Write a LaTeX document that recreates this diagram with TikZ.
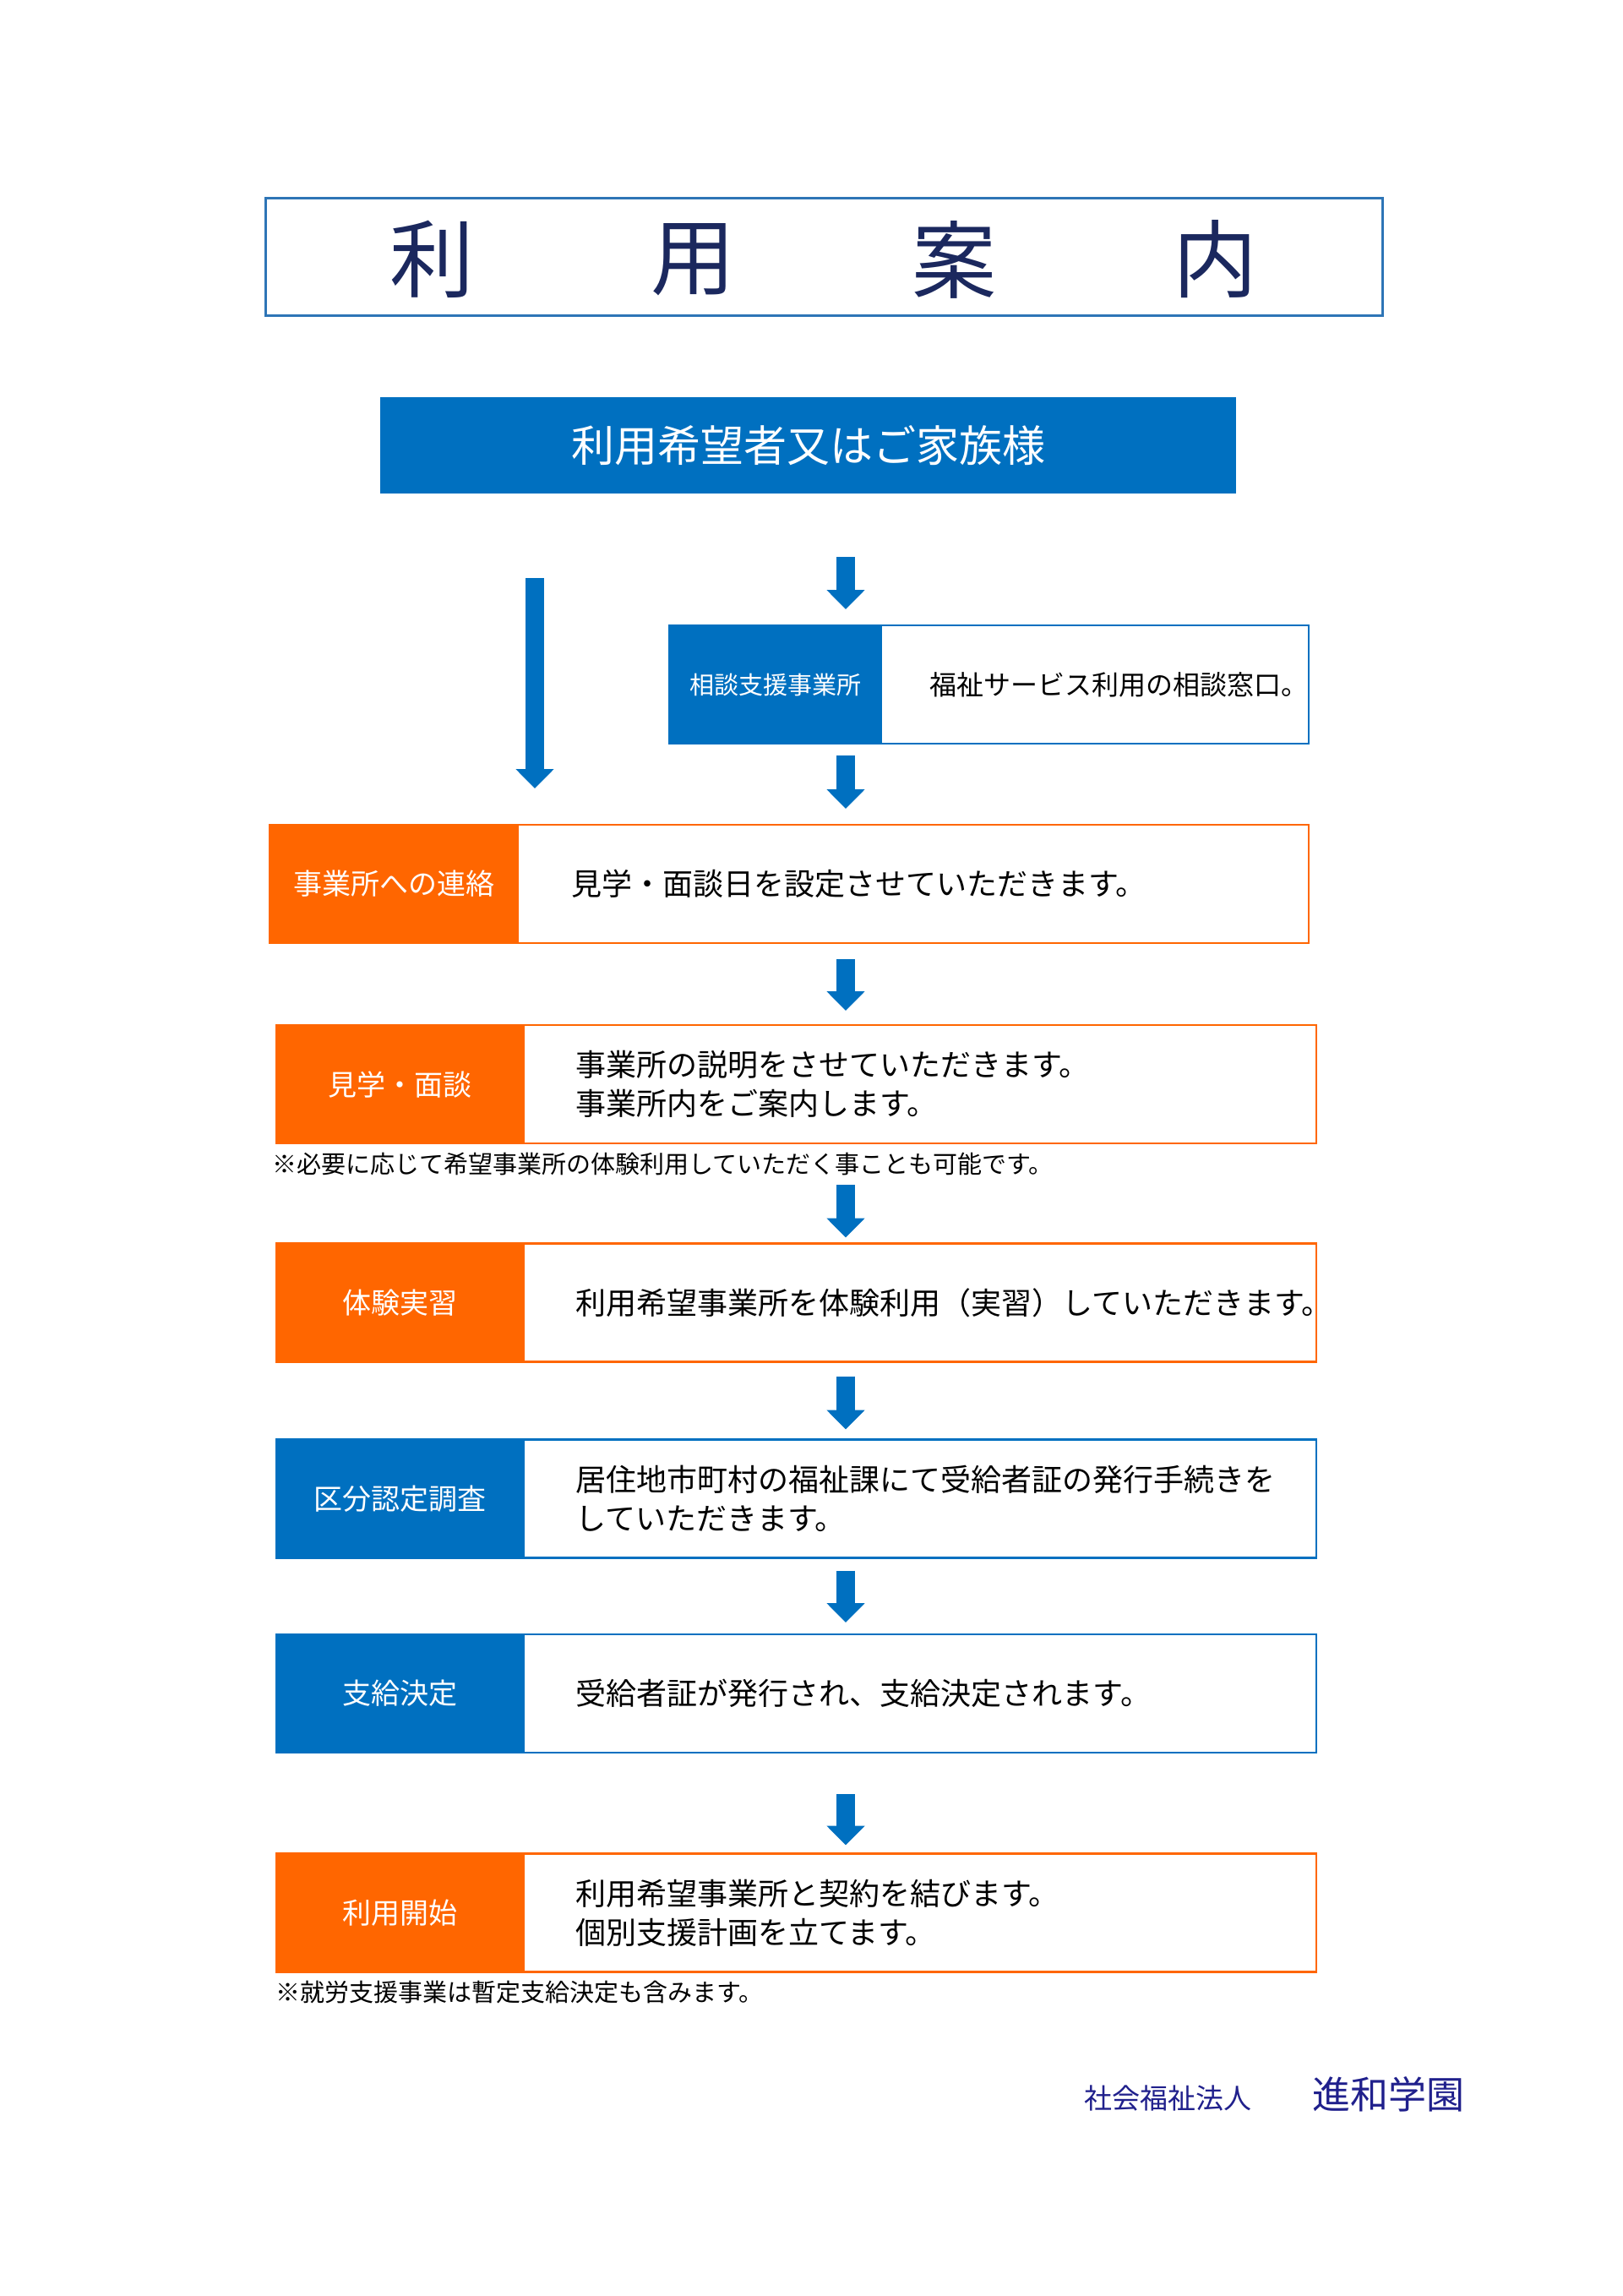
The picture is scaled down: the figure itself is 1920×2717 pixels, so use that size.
\documentclass[tikz,border=0pt]{standalone}
\usepackage{fontspec}
\setmainfont{Noto Sans CJK JP}
\usepackage{tikz}
\usetikzlibrary{positioning,arrows.meta}

\definecolor{kblue}{RGB}{0,112,192}
\definecolor{korange}{RGB}{255,102,0}
\definecolor{frameblue}{RGB}{46,117,182}
\definecolor{titlenavy}{RGB}{27,40,94}
\definecolor{footnavy}{RGB}{32,32,140}

\tikzset{
  base/.style={rectangle, inner sep=0pt, outer sep=0pt, line width=2.5pt},
  titlechar/.style={inner sep=0pt, text=titlenavy, font=\fontsize{100}{110}\selectfont},
  headbox/.style={base, fill=kblue, text=white, minimum width=1013pt, minimum height=114pt,
    font=\fontsize{51}{60}\selectfont},
  bluelabel/.style={base, draw=kblue, fill=kblue, text=white, minimum height=140pt,
    font=\fontsize{34}{40}\selectfont},
  orangelabel/.style={base, draw=korange, fill=korange, text=white, minimum height=140pt,
    font=\fontsize{34}{40}\selectfont},
  bluedesc/.style={base, draw=kblue, fill=white, minimum height=140pt},
  orangedesc/.style={base, draw=korange, fill=white, minimum height=140pt},
  desctext/.style={anchor=west, align=left, inner sep=0pt, font=\fontsize{36}{46}\selectfont},
  note/.style={anchor=west, inner sep=0pt, font=\fontsize{29}{34}\selectfont},
  flowarrow/.style={draw=kblue, line width=22pt, -{Triangle[width=44pt,length=23pt]}},
}

\begin{document}
\begin{tikzpicture}[x=1pt,y=-1pt]
\useasboundingbox (0,0) rectangle (1920,2717);
\fill[white] (0,0) rectangle (1920,2717);

% title
\node[base, draw=frameblue, line width=3pt, minimum width=1322pt, minimum height=139pt] (title) at (975,303.5) {};
\foreach \ch [count=\i] in {利,用,案,内}
  \node[titlechar] (t\i) at ({511+(\i-1)*309},307) {\ch};

% who asks
\node[headbox] (head) at (956.5,527) {利用希望者又はご家族様};

% consultation office
\node[bluelabel, minimum width=251pt, font=\fontsize{29}{34}\selectfont] (c0) at (917.5,810) {相談支援事業所};
\node[bluedesc, minimum width=506pt, right=0pt of c0] (w0) {};
\node[desctext, font=\fontsize{32}{40}\selectfont] (d0) at ([xshift=57pt]w0.west) {福祉サービス利用の相談窓口。};

% steps
\node[orangelabel, minimum width=294pt] (c1) at (466,1046) {事業所への連絡};
\node[orangedesc, minimum width=936pt, right=0pt of c1] (w1) {};
\node[desctext] (d1) at ([xshift=63pt]w1.west) {見学・面談日を設定させていただきます。};

\node[orangelabel, minimum width=293pt] (c2) at (473.5,1283) {見学・面談};
\node[orangedesc, minimum width=938pt, right=0pt of c2] (w2) {};
\node[desctext] (d2) at ([xshift=61pt]w2.west) {事業所の説明をさせていただきます。\\事業所内をご案内します。};
\node[note] (n2) at ([xshift=-5pt,yshift=-25pt]c2.south west) {※必要に応じて希望事業所の体験利用していただく事ことも可能です。};

\node[orangelabel, minimum width=293pt] (c3) at (473.5,1541.5) {体験実習};
\node[orangedesc, minimum width=938pt, right=0pt of c3] (w3) {};
\node[desctext] (d3) at ([xshift=61pt]w3.west) {利用希望事業所を体験利用（実習）していただきます。};

\node[bluelabel, minimum width=293pt] (c4) at (473.5,1773.5) {区分認定調査};
\node[bluedesc, minimum width=938pt, right=0pt of c4] (w4) {};
\node[desctext] (d4) at ([xshift=61pt]w4.west) {居住地市町村の福祉課にて受給者証の発行手続きを\\していただきます。};

\node[bluelabel, minimum width=293pt] (c5) at (473.5,2004) {支給決定};
\node[bluedesc, minimum width=938pt, right=0pt of c5] (w5) {};
\node[desctext] (d5) at ([xshift=61pt]w5.west) {受給者証が発行され、支給決定されます。};

\node[orangelabel, minimum width=293pt] (c6) at (473.5,2263.5) {利用開始};
\node[orangedesc, minimum width=938pt, right=0pt of c6] (w6) {};
\node[desctext] (d6) at ([xshift=61pt]w6.west) {利用希望事業所と契約を結びます。\\個別支援計画を立てます。};
\node[note] (n6) at ([xshift=-1pt,yshift=-24pt]c6.south west) {※就労支援事業は暫定支給決定も含みます。};

% arrows
\coordinate (col) at (1001,0);
\coordinate (side) at (633,0);
\draw[flowarrow] ([yshift=-100pt]head.south -| side) -- ([yshift=43pt]c1.north -| side);
\draw[flowarrow] ([yshift=-75pt]head.south -| col) -- ([yshift=19pt]c0.north -| col);
\draw[flowarrow] ([yshift=-14pt]c0.south -| col) -- ([yshift=19pt]w1.north -| col);
\draw[flowarrow] ([yshift=-19pt]w1.south -| col) -- ([yshift=17pt]w2.north -| col);
\draw[flowarrow] ([yshift=-49pt]w2.south -| col) -- ([yshift=7pt]w3.north -| col);
\draw[flowarrow] ([yshift=-17pt]w3.south -| col) -- ([yshift=12pt]w4.north -| col);
\draw[flowarrow] ([yshift=-15pt]w4.south -| col) -- ([yshift=14pt]w5.north -| col);
\draw[flowarrow] ([yshift=-49pt]w5.south -| col) -- ([yshift=10pt]w6.north -| col);

% footer
\node[inner sep=0pt, text=footnavy, font=\fontsize{33}{40}\selectfont] (corp) at (1382,2483) {社会福祉法人};
\node[inner sep=0pt, text=footnavy, font=\fontsize{45}{54}\selectfont] (org) at (1643,2478) {進和学園};
\end{tikzpicture}
\end{document}
